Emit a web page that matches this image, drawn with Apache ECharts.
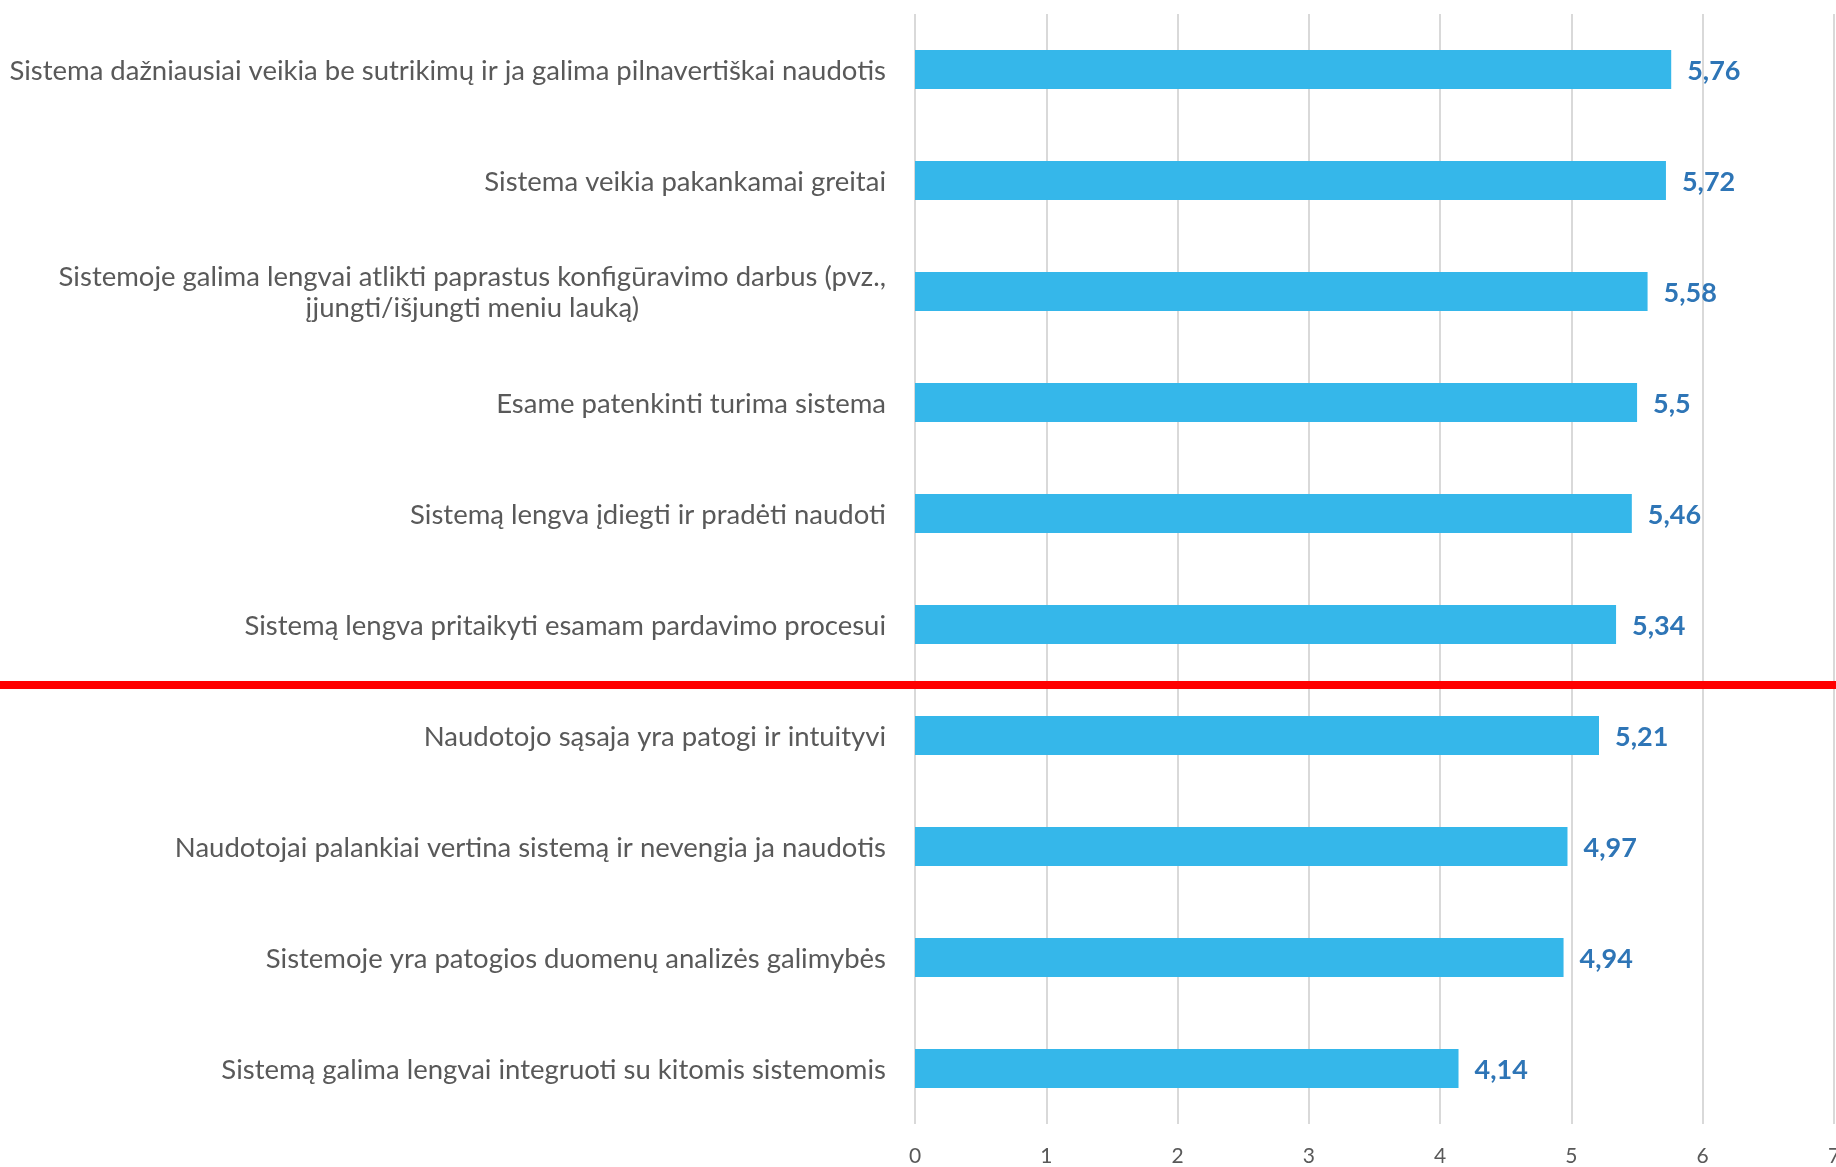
<!DOCTYPE html>
<html><head><meta charset="utf-8">
<script src="https://cdn.jsdelivr.net/npm/echarts@6/dist/echarts.min.js"></script>
<style>html,body{margin:0;padding:0;background:#fff}#c{width:1836px;height:1167px}</style>
</head><body><div id="c"></div>
<script>
const categories = [
  "Sistema dažniausiai veikia be sutrikimų ir ja galima pilnavertiškai naudotis",
  "Sistema veikia pakankamai greitai",
  "Sistemoje galima lengvai atlikti paprastus konfigūravimo darbus (pvz.,\nįjungti/išjungti meniu lauką)",
  "Esame patenkinti turima sistema",
  "Sistemą lengva įdiegti ir pradėti naudoti",
  "Sistemą lengva pritaikyti esamam pardavimo procesui",
  "Naudotojo sąsaja yra patogi ir intuityvi",
  "Naudotojai palankiai vertina sistemą ir nevengia ja naudotis",
  "Sistemoje yra patogios duomenų analizės galimybės",
  "Sistemą galima lengvai integruoti su kitomis sistemomis"
];
const values = [5.76, 5.72, 5.58, 5.5, 5.46, 5.34, 5.21, 4.97, 4.94, 4.14];
const xTicks = [0, 1, 2, 3, 4, 5, 6, 7];
const dividerAfterIndex = 5;

const chart = echarts.init(document.getElementById('c'));
const font = 'Lato, "Open Sans", sans-serif';
chart.setOption({
  animation: false,
  grid: {left: 915, right: 2, top: 14, bottom: 43, containLabel: false, outerBoundsMode: 'none'},
  xAxis: {
    type: 'value', min: xTicks[0], max: xTicks[xTicks.length - 1], interval: 1,
    axisLine: {show: false}, axisTick: {show: false},
    splitLine: {show: true, lineStyle: {color: '#d9d9d9', width: 2}},
    axisLabel: {color: '#595959', fontSize: 21, fontFamily: font, margin: 22, hideOverlap: false}
  },
  yAxis: {
    type: 'category', data: categories, inverse: true,
    axisLine: {show: false}, axisTick: {show: false},
    axisLabel: {
      margin: 29, color: '#595959', fontSize: 27.5, fontFamily: font, lineHeight: 31,
      padding: [3, 0, 0, 0],
      formatter: v => v.split('\n').map(l => '{c|' + l + '}').join('\n'),
      rich: {c: {align: 'center', color: '#595959', fontSize: 27.5, fontFamily: font, lineHeight: 31}}
    }
  },
  series: [{
    type: 'bar', data: values, barWidth: 39,
    itemStyle: {color: '#35B7EA'},
    label: {
      show: true, position: 'right', distance: 16, offset: [0, 2],
      color: '#2E75B6', fontWeight: 'bold', fontSize: 27, fontFamily: font,
      formatter: p => String(p.value).replace('.', ',')
    }
  }]
});

const y1 = chart.convertToPixel({yAxisIndex: 0}, categories[dividerAfterIndex]);
const y2 = chart.convertToPixel({yAxisIndex: 0}, categories[dividerAfterIndex + 1]);
const yLine = (y1 + y2) / 2 + 5;
chart.setOption({
  graphic: [{
    type: 'line', z: 100,
    shape: {x1: 0, y1: yLine, x2: chart.getWidth(), y2: yLine},
    style: {stroke: '#FF0000', lineWidth: 8}
  }]
});
</script></body></html>
